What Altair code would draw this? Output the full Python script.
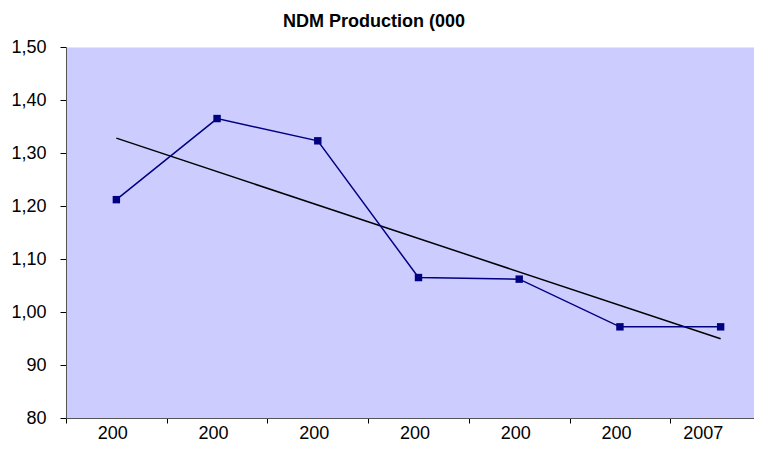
import json
import altair as alt
import pandas as pd

# Data
years = ["2001", "2002", "2003", "2004", "2005", "2006", "2007"]
tick_labels = ["200", "200", "200", "200", "200", "200", "2007"]
production = [1212, 1365, 1323, 1065, 1062, 972, 972]
y_ticks = [800, 900, 1000, 1100, 1200, 1300, 1400, 1500]

df = pd.DataFrame({
    "year": years,
    "idx": list(range(1, len(years) + 1)),
    "value": production,
})

label_map = json.dumps(dict(zip(years, tick_labels)))
years_arr = json.dumps(years)

FONT = "Liberation Sans"

x_enc = alt.X(
    "year:O",
    title=None,
    sort=years,
    scale=alt.Scale(domain=years, range=[0, 705], paddingInner=0, paddingOuter=0),
    axis=alt.Axis(
        labelAngle=0,
        tickBand="extent",
        labelExpr=f"{label_map}[datum.label]",
        labelAlign="center",
        labelOffset={"condition": {"test": "datum.label == '2007'", "value": -18}, "value": -4},
        labelBaseline="top",
        labelPadding=1,
        tickSize=5,
        tickColor="#000000",
        domainColor="#555555",
        labelFont=FONT,
        labelFontSize=18,
        labelColor="#000000",
        labelBound=False,
        labelOverlap=False,
        grid=False,
    ),
)

y_enc = alt.Y(
    "value:Q",
    title=None,
    scale=alt.Scale(domain=[800, 1500], nice=False, zero=False),
    axis=alt.Axis(
        values=y_ticks,
        labelExpr="slice(format(datum.value, ','), 0, -1)",
        tickSize=6,
        labelPadding=14,
        tickColor="#000000",
        domainColor="#555555",
        labelFont=FONT,
        labelFontSize=18,
        labelColor="#000000",
        grid=False,
    ),
)

base = alt.Chart(df)

line = base.mark_line(color="#000080", strokeWidth=1.5).encode(x=x_enc, y=y_enc)
points = base.mark_point(
    shape="square", filled=True, color="#000080", size=55, opacity=1
).encode(x="year:O", y="value:Q")

trend = (
    base.transform_regression("idx", "value", method="linear", extent=[1, 7])
    .transform_calculate(year=f"{years_arr}[round(datum.idx) - 1]")
    .mark_line(color="#000000", strokeWidth=1.5)
    .encode(x="year:O", y="value:Q")
)

chart = (
    alt.layer(trend, line, points)
    .properties(
        width=688,
        height=371,
        padding={"left": 58, "top": 39, "right": 0, "bottom": 25},
        autosize=alt.AutoSizeParams(type="none"),
        title=alt.TitleParams(
            "NDM Production (000",
            font=FONT,
            fontSize=18,
            fontWeight="bold",
            color="#000000",
            anchor="start",
            frame="group",
            dx=217,
            dy=14,
            baseline="alphabetic",
            offset=7,
        ),
    )
    .configure_view(fill="#CCCCFF", stroke="transparent")
)

chart.save("out.html", embed_options={"renderer": "svg", "actions": False})
